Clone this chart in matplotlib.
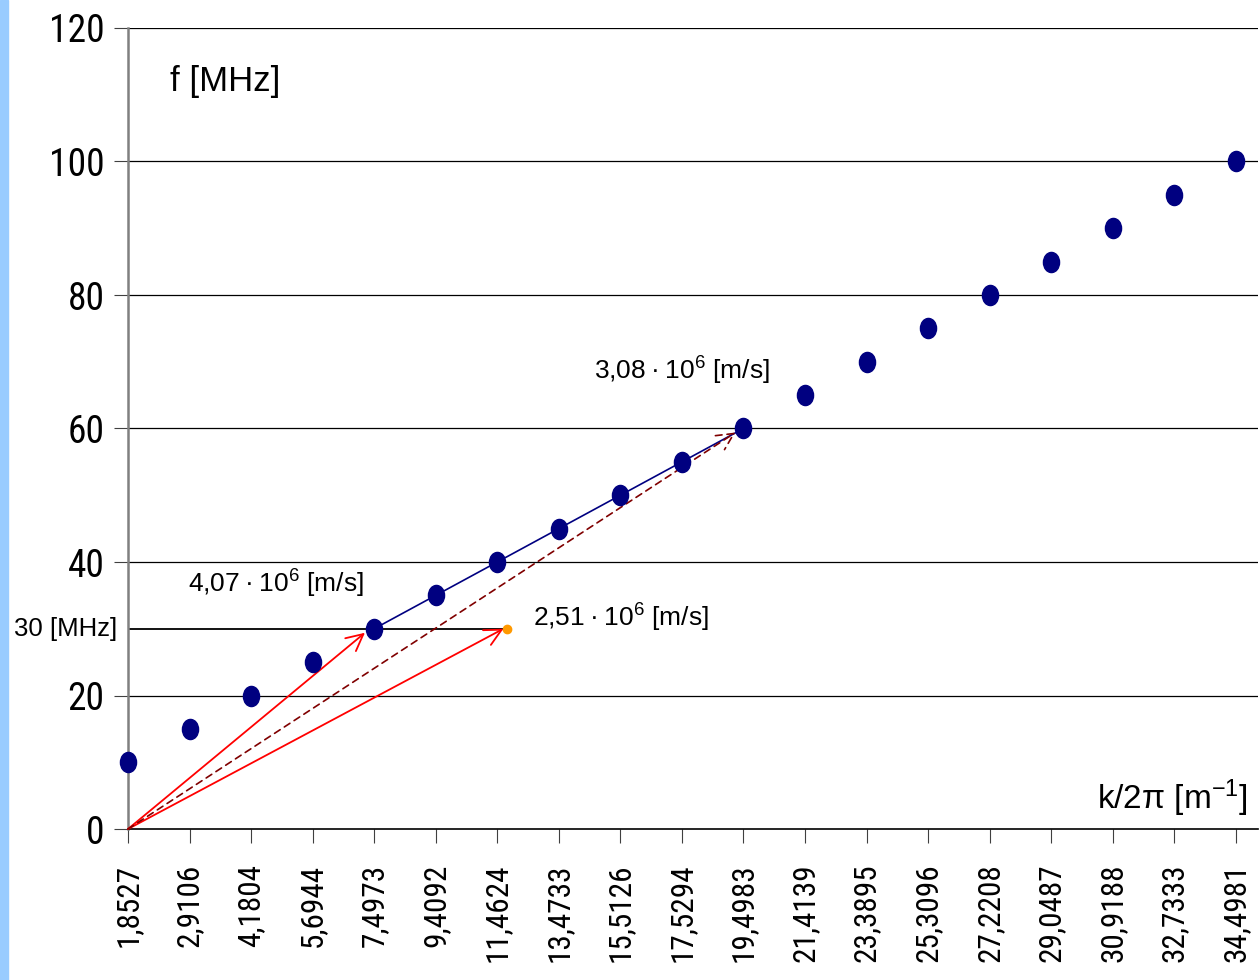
import matplotlib.pyplot as plt
from matplotlib.patches import Rectangle
from matplotlib.path import Path
from matplotlib.transforms import Affine2D

plt.rcParams['font.family'] = ['Liberation Sans', 'DejaVu Sans']
plt.rcParams['mathtext.default'] = 'regular'
NARROW = ['Roboto Condensed', 'Archivo Narrow', 'Liberation Sans', 'DejaVu Sans']

# wave number k/2pi [1/m] and frequency f [MHz]
k_labels = ['1,8527', '2,9106', '4,1804', '5,6944', '7,4973', '9,4092', '11,4624',
            '13,4733', '15,5126', '17,5294', '19,4983', '21,4139', '23,3895',
            '25,3096', '27,2208', '29,0487', '30,9188', '32,7333', '34,4981']
f_mhz = [10, 15, 20, 25, 30, 35, 40, 45, 50, 55, 60, 65, 70, 75, 80, 85, 90, 95, 100]

# category positions of the velocity construction
idx_30 = 4          # f = 30 MHz point
idx_60 = 10         # f = 60 MHz point
orange_x = 6.15     # end of the 30 MHz line
orange_y = 30

# slightly tall oval marker
oval = Path.unit_circle().transformed(Affine2D().scale(0.8, 1.0))

fig = plt.figure(figsize=(12.6, 9.8), dpi=100)
fig.patches.append(Rectangle((0, 0), 8 / 1260, 1, transform=fig.transFigure,
                             color='#99ccff', zorder=0))
ax = fig.add_axes([128 / 1260, 1 - 829 / 980, 1130 / 1260, 801 / 980])

x = list(range(len(f_mhz)))
ax.set_xlim(0, 18.36)
ax.set_ylim(0, 120)
ax.set_yticks(range(0, 121, 20))
ax.set_yticklabels([str(v) for v in range(0, 121, 20)], family=NARROW, fontsize=27)
ax.set_xticks(x)
ax.set_xticklabels(k_labels, rotation=90, family=NARROW, fontsize=22.5)
ax.tick_params(axis='y', length=10, pad=7, color='#404040')
ax.tick_params(axis='x', length=10, pad=15, color='#404040')
for yv in range(20, 121, 20):
    ax.axhline(yv, color='black', lw=0.9, zorder=1)

ax.spines['top'].set_visible(False)
ax.spines['right'].set_visible(False)
ax.spines['left'].set_color('#808080')
ax.spines['left'].set_linewidth(1.8)
ax.spines['bottom'].set_linewidth(1.2)

# 30 MHz line and group-velocity line
ax.plot([0, orange_x], [30, 30], color='black', lw=1.3, zorder=2)
ax.plot([idx_30, idx_60], [f_mhz[idx_30], f_mhz[idx_60]], color='#000080', lw=1.2, zorder=2)

# velocity arrows from the origin
arrow_red = dict(arrowstyle='->', color='red', lw=1.3, mutation_scale=30, shrinkA=0, shrinkB=0)
ax.annotate('', xy=(idx_30 - 0.15, f_mhz[idx_30] - 0.6), xytext=(0, 0),
            arrowprops=arrow_red, zorder=3)
ax.annotate('', xy=(orange_x - 0.05, orange_y), xytext=(0, 0),
            arrowprops=arrow_red, zorder=3)
ax.annotate('', xy=(idx_60 - 0.13, f_mhz[idx_60] - 0.6), xytext=(0, 0),
            arrowprops=dict(arrowstyle='->', color='#800000', lw=1.2, ls=(0, (4, 3)),
                            mutation_scale=30, shrinkA=0, shrinkB=0), zorder=3)

ax.plot(x, f_mhz, ls='none', marker=oval, color='#000080', ms=14.5, zorder=4, clip_on=False)
ax.plot([orange_x], [orange_y], 'o', color='#ff9900', ms=6, zorder=4)

ax.text(0.68, 112, 'f [MHz]', fontsize=25, va='center', ha='left')
ax.text(18.2, 4.6, 'k/2π [m$^{-1}$]', fontsize=24, va='center', ha='right')
ax.text(-0.18, 30, '30 [MHz]', fontsize=18.5, va='center', ha='right')
sep = '\u2009·\u2009'
ax.text(0.97, 36.7, f'4,07{sep}10$^6$ [m/s]', fontsize=19, va='center', ha='left')
ax.text(6.58, 31.7, f'2,51{sep}10$^6$ [m/s]', fontsize=19, va='center', ha='left')
ax.text(7.57, 68.6, f'3,08{sep}10$^6$ [m/s]', fontsize=19, va='center', ha='left')

fig.savefig('out.png', dpi=100)
